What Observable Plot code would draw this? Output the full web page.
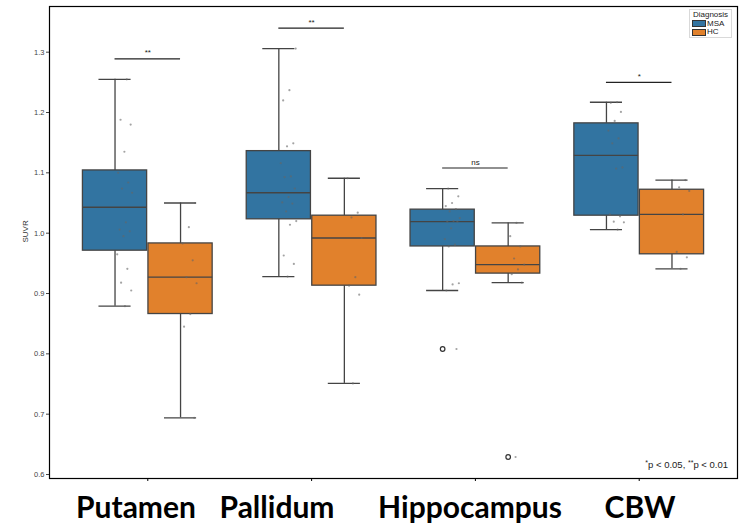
<!DOCTYPE html>
<html>
<head>
<meta charset="utf-8">
<script src="https://cdn.jsdelivr.net/npm/d3@7"></script>
<script src="https://cdn.jsdelivr.net/npm/@observablehq/plot@0.6"></script>
<style>
  html, body { margin: 0; padding: 0; background: #fff; }
  #wrap { position: relative; width: 742px; height: 525px; font-family: "Liberation Sans", Arial, sans-serif; }
  #legend { position: absolute; left: 689px; top: 9px; width: 43px; height: 29px; border: 1px solid #d9d9d9; background: #fff; font-size: 8px; color: #222; box-sizing: border-box; padding: 1px 2px; line-height: 8.5px; }
  #legend .row { display: flex; align-items: center; height: 8.5px; }
  #legend .sw { width: 12px; height: 5px; border: 1px solid #333; margin-right: 1px; }
  #note { position: absolute; right: 14px; top: 459px; font-size: 9.5px; line-height: 11px; color: #222; white-space: nowrap; }
  #note .st { font-size: 7px; position: relative; top: -3px; }
  #cats { position: absolute; left: 0; top: 484px; width: 742px; height: 41px; font-family: Lato, "Open Sans", sans-serif; font-weight: 700; font-size: 30px; color: #000; }
  #cats span { position: absolute; top: 5px; transform: translateX(-50%); white-space: nowrap; line-height: 34px; }
</style>
</head>
<body>
<div id="wrap">
  <div id="chart"></div>
  <div id="legend"></div>
  <div id="note"><span class="st">*</span>p &lt; 0.05, <span class="st">**</span>p &lt; 0.01</div>
  <div id="cats"></div>
</div>
<script>
// ---- data ----
const categories = ["Putamen", "Pallidum", "Hippocampus", "CBW"];
const groups = ["MSA", "HC"];
const groupColors = ["#3274A1", "#E1812C"];

const msaWhiskerLow  = [0.879, 0.928, 0.905, 1.006];
const msaQ1          = [0.971, 1.023, 0.978, 1.029];
const msaMedian      = [1.043, 1.067, 1.019, 1.129];
const msaQ3          = [1.104, 1.136, 1.039, 1.182];
const msaWhiskerHigh = [1.255, 1.306, 1.074, 1.217];

const hcWhiskerLow  = [0.694, 0.751, 0.918, 0.941];
const hcQ1          = [0.866, 0.913, 0.933, 0.965];
const hcMedian      = [0.927, 0.992, 0.948, 1.031];
const hcQ3          = [0.983, 1.029, 0.978, 1.072];
const hcWhiskerHigh = [1.050, 1.091, 1.017, 1.088];

const msaOutliers = [[], [], [0.808], []];
const hcOutliers  = [[], [], [0.629], []];

const msaPoints = [
  [1.255, 1.188, 1.180, 1.135, 1.100, 1.084, 1.074, 1.067, 1.018, 1.006, 1.003, 0.995, 0.965, 0.941, 0.918, 0.905, 0.879],
  [1.306, 1.237, 1.220, 1.149, 1.144, 1.116, 1.094, 1.093, 1.074, 1.060, 1.051, 1.049, 1.036, 1.020, 1.014, 0.963, 0.949, 0.928],
  [1.074, 1.061, 1.050, 1.045, 1.040, 1.036, 1.025, 1.020, 1.019, 1.019, 1.008, 0.990, 0.981, 0.978, 0.917, 0.915, 0.905, 0.808],
  [1.217, 1.216, 1.201, 1.186, 1.170, 1.157, 1.149, 1.109, 1.107, 1.031, 1.028, 1.019, 1.018, 1.006]
];
const hcPoints = [
  [1.050, 1.010, 0.983, 0.955, 0.927, 0.917, 0.866, 0.845, 0.694],
  [1.091, 1.034, 1.026, 0.992, 0.927, 0.913, 0.898, 0.751],
  [1.017, 0.995, 0.978, 0.958, 0.948, 0.940, 0.932, 0.918, 0.629],
  [1.088, 1.076, 1.070, 1.031, 0.969, 0.960, 0.941]
];

const sigLabels = ["**", "**", "ns", "*"];
const sigLevels = [1.289, 1.340, 1.108, 1.250];

const yTicks = [0.6, 0.7, 0.8, 0.9, 1.0, 1.1, 1.2, 1.3];

// ---- derived tables ----
const OFFSET = 0.2, HALF = 0.196, CAP = 0.098;
const stats = [
  [msaWhiskerLow, msaQ1, msaMedian, msaQ3, msaWhiskerHigh, msaOutliers, msaPoints],
  [hcWhiskerLow, hcQ1, hcMedian, hcQ3, hcWhiskerHigh, hcOutliers, hcPoints]
];
const boxes = [];
const points = [];
const outliers = [];
categories.forEach((cat, i) => {
  groups.forEach((grp, g) => {
    const [lo, q1, md, q3, hi, out, pts] = stats[g];
    const pos = i + 1 + (g === 0 ? -OFFSET : OFFSET);
    boxes.push({cat, grp, pos, lo: lo[i], q1: q1[i], med: md[i], q3: q3[i], hi: hi[i]});
    pts[i].forEach((v, k) => {
      const j = (((k + 1) * 0.6180339887 + i * 0.31 + g * 0.17) % 1) - 0.5;
      points.push({grp, pos: pos + j * 0.1, v});
    });
    out[i].forEach(v => outliers.push({grp, pos, v}));
  });
});
const sig = categories.map((cat, i) => ({cat, label: sigLabels[i], y: sigLevels[i], x1: i + 1 - OFFSET, x2: i + 1 + OFFSET, xm: i + 1}));

const lineColor = "#444";

const plot = Plot.plot({
  width: 742,
  height: 484,
  marginLeft: 49,
  marginRight: 5,
  marginTop: 6,
  marginBottom: 6,
  style: {fontFamily: "'Liberation Sans', Arial, sans-serif", background: "#fff"},
  x: {domain: [0.4, 4.6], axis: null},
  y: {domain: [0.5934, 1.3757], axis: null},
  color: {domain: groups, range: groupColors},
  marks: [
    Plot.axisY({ticks: yTicks, tickFormat: d3.format(".1f"), tickSize: 3, tickPadding: 2, fontSize: 7.5, color: "#444", label: null}),
    Plot.axisX({ticks: [1, 2, 3, 4], tickFormat: () => "", tickSize: 3, label: null, stroke: "#000"}),
    Plot.text(["SUVR"], {frameAnchor: "left", dx: -24, rotate: -90, fontSize: 8, fill: "#333"}),
    // whiskers
    Plot.ruleX(boxes, {x: "pos", y1: "lo", y2: "q1", stroke: lineColor, strokeWidth: 1.3}),
    Plot.ruleX(boxes, {x: "pos", y1: "q3", y2: "hi", stroke: lineColor, strokeWidth: 1.3}),
    Plot.ruleY(boxes, {y: "lo", x1: d => d.pos - CAP, x2: d => d.pos + CAP, stroke: lineColor, strokeWidth: 1.3}),
    Plot.ruleY(boxes, {y: "hi", x1: d => d.pos - CAP, x2: d => d.pos + CAP, stroke: lineColor, strokeWidth: 1.3}),
    // boxes
    Plot.rect(boxes, {x1: d => d.pos - HALF, x2: d => d.pos + HALF, y1: "q1", y2: "q3", fill: "grp", stroke: lineColor, strokeWidth: 1.3}),
    Plot.ruleY(boxes, {y: "med", x1: d => d.pos - HALF, x2: d => d.pos + HALF, stroke: lineColor, strokeWidth: 1.3}),
    // outliers
    Plot.dot(outliers, {x: "pos", y: "v", r: 2.3, stroke: "#333", strokeWidth: 1.2, fill: "none"}),
    // strip points
    Plot.dot(points, {x: d => d.pos + 0.06, y: "v", r: 1.1, fill: "#666", fillOpacity: 0.6}),
    // significance
    Plot.ruleY(sig, {y: "y", x1: "x1", x2: "x2", stroke: "#222", strokeWidth: 1.2}),
    Plot.text(sig, {x: "xm", y: "y", text: "label", dy: -6, fontSize: 8, fill: "#222"}),
    Plot.frame({stroke: "#000", strokeWidth: 1.2})
  ]
});
document.getElementById("chart").appendChild(plot);

// legend
const legend = document.getElementById("legend");
legend.innerHTML = `<div style="text-align:center">Diagnosis</div>` +
  groups.map((g, i) => `<div class="row"><div class="sw" style="background:${groupColors[i]}"></div>${g}</div>`).join("");

// big category labels under the axis
const catCenters = [136, 277, 470, 640];
const cats = document.getElementById("cats");
categories.forEach((c, i) => {
  const s = document.createElement("span");
  s.textContent = c;
  s.style.left = catCenters[i] + "px";
  cats.appendChild(s);
});
</script>
</body>
</html>
